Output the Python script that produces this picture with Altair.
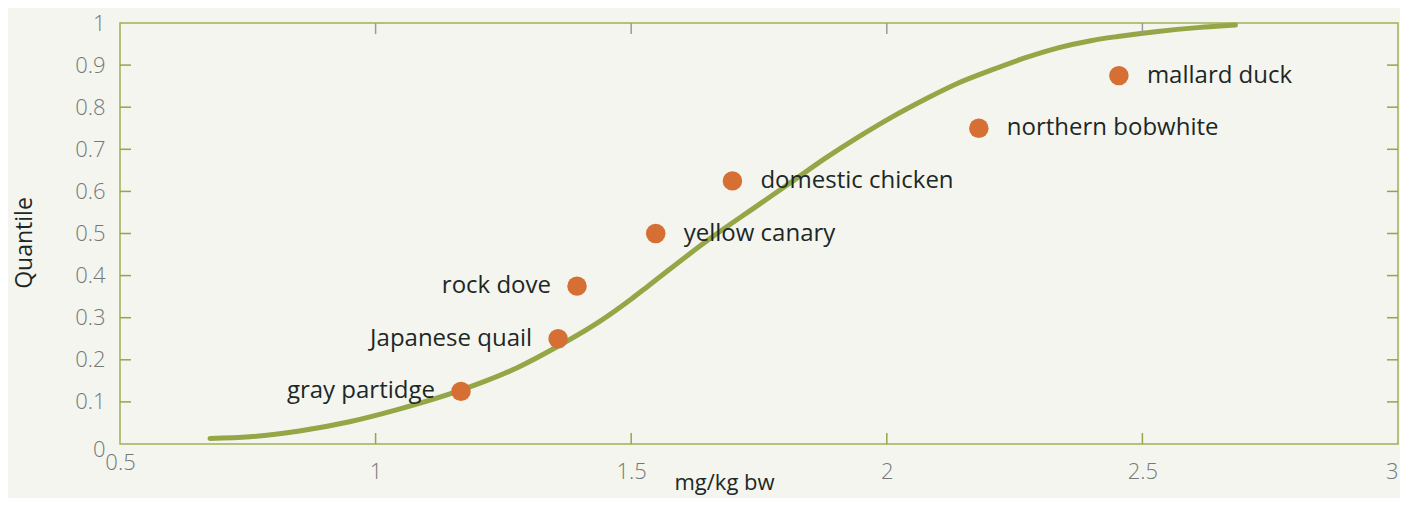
import altair as alt
import pandas as pd

# ---- data ----
species = ["gray partidge", "Japanese quail", "rock dove", "yellow canary",
           "domestic chicken", "northern bobwhite", "mallard duck"]
dose = [1.167, 1.357, 1.394, 1.548, 1.698, 2.180, 2.454]
quantile = [0.125, 0.25, 0.375, 0.5, 0.625, 0.75, 0.875]

curve_dose = [0.676, 0.754, 0.851, 0.949, 1.046, 1.167, 1.275, 1.355, 1.437,
              1.501, 1.534, 1.651, 1.749, 1.813, 1.880, 1.944, 2.009,
              2.075, 2.139, 2.204, 2.270, 2.335, 2.399, 2.452, 2.530, 2.608,
              2.682]
curve_q = [0.013, 0.017, 0.031, 0.053, 0.083, 0.128, 0.180, 0.231, 0.290,
           0.345, 0.376, 0.485, 0.568, 0.622, 0.679, 0.729, 0.776,
           0.819, 0.857, 0.888, 0.917, 0.941, 0.958, 0.968, 0.980, 0.989,
           0.995]

x_label_values = [0.5, 1, 1.5, 2, 2.5, 3]
y_label_values = [0, 0.1, 0.2, 0.3, 0.4, 0.5, 0.6, 0.7, 0.8, 0.9, 1]
inner_x_ticks = [1, 1.5, 2, 2.5]
inner_y_ticks = [0.1, 0.2, 0.3, 0.4, 0.5, 0.6, 0.7, 0.8, 0.9]

left_species = ["gray partidge", "Japanese quail", "rock dove"]

pts = pd.DataFrame({"species": species, "dose": dose, "q": quantile})
curve = pd.DataFrame({"dose": curve_dose, "q": curve_q})
xt = pd.DataFrame({"v": inner_x_ticks})
yt = pd.DataFrame({"v": inner_y_ticks})

W, H = 1278, 421
GREEN = "#94a646"
FRAME = "#9fb055"
ORANGE = "#d66f33"
LABEL = "#737979"
DARK = "#1c2827"
FONT = "Open Sans"

xscale = alt.Scale(domain=[0.5, 3], nice=False, zero=False)
yscale = alt.Scale(domain=[0, 1], nice=False, zero=False)

x_axis = alt.Axis(values=x_label_values, format="~g", title="mg/kg bw",
                  ticks=False, domain=False, grid=False,
                  labelFont=FONT, labelFontSize=22, labelColor=LABEL,
                  labelFontWeight=300, labelBaseline="top",
                  labelAlign={"condition": {"test": "datum.value == 3", "value": "right"}, "value": "center"},
                  labelPadding={"condition": {"test": "datum.value == 0.5", "value": 8}, "value": 17},
                  titleFont=FONT, titleFontSize=22, titleColor=DARK,
                  titleFontWeight=500, titleX=604, titleY=38,
                  titleBaseline="middle")
y_axis = alt.Axis(values=y_label_values, format="~g", title="Quantile",
                  ticks=False, domain=False, grid=False,
                  labelFont=FONT, labelFontSize=22, labelColor=LABEL,
                  labelFontWeight=300, labelPadding=15,
                  labelOffset={"condition": {"test": "datum.value == 0", "value": 5}, "value": 0},
                  titleFont=FONT, titleFontSize=23, titleColor=DARK,
                  titleFontWeight=500, titleX=-96, titleY=H / 2 + 9,
                  titleBaseline="middle")

X = lambda f: alt.X(f, type="quantitative", scale=xscale, axis=x_axis)
Y = lambda f: alt.Y(f, type="quantitative", scale=yscale, axis=y_axis)

line = alt.Chart(curve).mark_line(color=GREEN, strokeWidth=5, strokeCap="round",
                                  interpolate="monotone").encode(
    x=X("dose"), y=Y("q"))

dots = alt.Chart(pts).mark_point(filled=True, shape="circle", size=380,
                                 color=ORANGE, opacity=1).encode(
    x=X("dose"), y=Y("q"))

text_style = dict(font=FONT, fontSize=24, color=DARK, fontWeight=500,
                  baseline="middle")

right_text = alt.Chart(pts).transform_filter(
    ~alt.FieldOneOfPredicate(field="species", oneOf=left_species)
).mark_text(align="left", dx=28, **text_style).encode(
    x=X("dose"), y=Y("q"), text="species:N")

left_text = alt.Chart(pts).transform_filter(
    alt.FieldOneOfPredicate(field="species", oneOf=left_species)
).mark_text(align="right", dx=-26, **text_style).encode(
    x=X("dose"), y=Y("q"), text="species:N")

left_ticks = alt.Chart(yt).mark_rule(color=GREEN, strokeWidth=1.5).encode(
    y=Y("v"), x=alt.value(0), x2=alt.value(11))
right_ticks = alt.Chart(yt).mark_rule(color=GREEN, strokeWidth=1.5).encode(
    y=Y("v"), x=alt.value(W - 11), x2=alt.value(W))
bottom_ticks = alt.Chart(xt).mark_rule(color=GREEN, strokeWidth=1.5).encode(
    x=X("v"), y=alt.value(H - 11), y2=alt.value(H))
top_ticks = alt.Chart(xt).mark_rule(color="#9a9a9a", strokeWidth=1.5).encode(
    x=X("v"), y=alt.value(0), y2=alt.value(11))

chart = alt.layer(
    line, left_ticks, right_ticks, bottom_ticks, top_ticks,
    dots, right_text, left_text
).properties(
    width=W, height=H,
    autosize=alt.AutoSizeParams(type="none"),
    padding={"left": 112, "top": 15, "right": 2, "bottom": 54},
    background="#f4f5ee",
).configure_view(
    stroke=FRAME, strokeWidth=1.5
)

chart.save("out.html", embed_options={"renderer": "svg", "actions": False})
